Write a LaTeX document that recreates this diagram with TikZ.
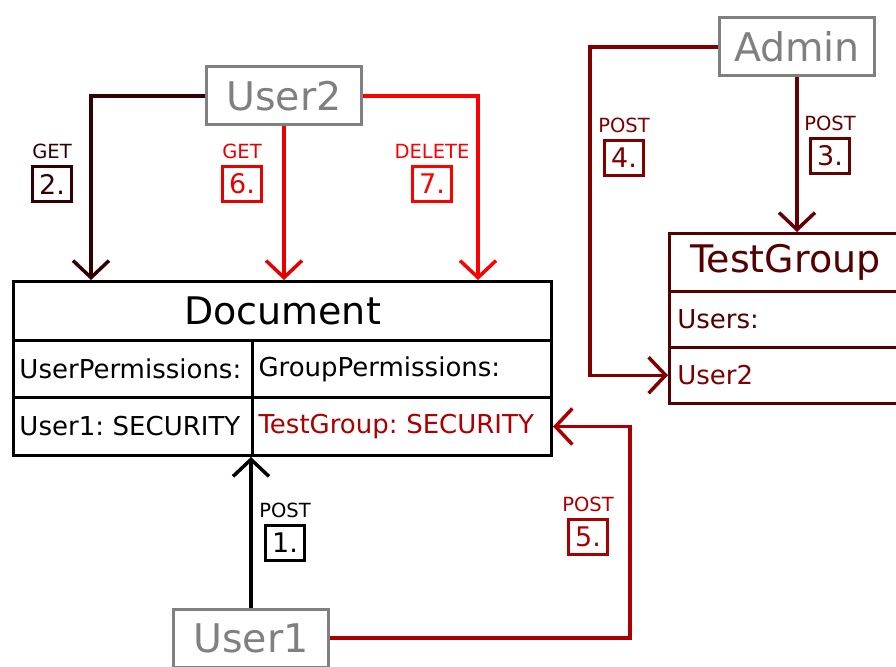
\documentclass[tikz,border=0pt]{standalone}
\usepackage{fontspec}
\setmainfont{DejaVu Sans}
\usepackage{tikz}
\usetikzlibrary{arrows.meta,positioning}
\definecolor{UserGray}{RGB}{128,128,128}
\definecolor{StepTwo}{RGB}{51,0,0}
\definecolor{StepThree}{RGB}{100,0,0}
\definecolor{StepFour}{RGB}{128,0,0}
\definecolor{StepFive}{RGB}{170,0,0}
\definecolor{StepSix}{RGB}{230,0,0}
\definecolor{StepSeven}{RGB}{255,0,0}
\definecolor{GroupRed}{RGB}{85,0,0}
\newcommand{\cellfont}{\fontsize{26}{28}\selectfont\hyphenpenalty=10000\relax}
\frenchspacing

\begin{document}
\begin{tikzpicture}[x=1pt,y=-1pt,
    actor/.style={draw=UserGray,text=UserGray,line width=3pt,minimum width=155pt,minimum height=58pt,inner sep=0pt,font=\fontsize{39.5}{42}\selectfont},
    header/.style={draw,line width=3pt,anchor=north west,inner sep=0pt,font=\fontsize{38}{40}\selectfont},
    cell/.style={draw,line width=3pt,anchor=north west,inner xsep=6pt,inner ysep=0pt,text width=#1,align=left,font=\cellfont},
    stepbox/.style={draw,line width=3pt,minimum width=39pt,minimum height=35pt,inner sep=0pt,font=\fontsize{27}{28}\selectfont},
    method/.style={inner sep=0pt,font=\fontsize{19.5}{20}\selectfont},
    flow/.style={line width=3.5pt,-{Straight Barb[length=17pt,width=36pt]}}]
    \clip (0,0) rectangle (896,666);

%   Document
    \node[header,minimum width=538pt,minimum height=59pt] (doc) at (12,280) {Document};
    \node[cell=227pt,minimum height=57pt] (docup) at (12,339) {UserPermissions:};
    \node[cell=287pt,minimum height=57pt] (docgp) at (251,339) {GroupPermissions:};
    \node[cell=227pt,minimum height=58pt] (docuser) at (12,396) {User1: SECURITY};
    \node[cell=287pt,minimum height=58pt,text=StepFive] (docgroup) at (251,396) {TestGroup: SECURITY};

%   TestGroup
    \node[header,draw=GroupRed,text=GroupRed,line width=2.5pt,minimum width=232pt,minimum height=58pt] (tg) at (668,232) {TestGroup};
    \node[cell=218pt,draw=GroupRed,text=GroupRed,line width=2.5pt,inner xsep=8pt,minimum height=56pt] (tgusers) at (668,290) {Users:};
    \node[cell=218pt,draw=GroupRed,text=StepFour,line width=2.5pt,inner xsep=8pt,minimum height=56pt] (tgmember) at (668,346) {User2};

%   actors
    \node[actor] (user2) at (284,96) {User2};
    \node[actor] (admin) at (797,47) {Admin};
    \node[actor] (user1) at (251,638) {User1};

%   requests
    \draw[flow,black] (user1.north) -- (user1.north |- docuser.south);
    \draw[flow,StepTwo] (user2.west) -| ([xshift=79pt]doc.north west);
    \draw[flow,StepThree] (admin.south) -- (admin.south |- tg.north);
    \draw[flow,StepFour] (admin.west) -- ++(-128,0) |- (tgmember.west);
    \draw[flow,StepFive] (user1.east) -- ++(300,0) |- (docgroup.east);
    \draw[flow,StepSix] (user2.south) -- (user2.south |- doc.north);
    \draw[flow,StepSeven] (user2.east) -| ([xshift=466pt]doc.north west);

%   step numbers
    \node[stepbox,draw=black] (s1) at (285,543) {1.};
    \node[method,above=6pt of s1] (m1) {POST};
    \node[stepbox,draw=StepTwo,text=StepTwo] (s2) at (52,184) {2.};
    \node[method,text=StepTwo,above=6pt of s2] (m2) {GET};
    \node[stepbox,draw=StepThree,text=StepThree] (s3) at (830,156) {3.};
    \node[method,text=StepThree,above=6pt of s3] (m3) {POST};
    \node[stepbox,draw=StepFour,text=StepFour] (s4) at (624,158) {4.};
    \node[method,text=StepFour,above=6pt of s4] (m4) {POST};
    \node[stepbox,draw=StepFive,text=StepFive] (s5) at (588,537) {5.};
    \node[method,text=StepFive,above=6pt of s5] (m5) {POST};
    \node[stepbox,draw=StepSix,text=StepSix] (s6) at (242,184) {6.};
    \node[method,text=StepSix,above=6pt of s6] (m6) {GET};
    \node[stepbox,draw=StepSeven,text=StepSeven] (s7) at (432,184) {7.};
    \node[method,text=StepSeven,above=6pt of s7] (m7) {DELETE};
\end{tikzpicture}
\end{document}
